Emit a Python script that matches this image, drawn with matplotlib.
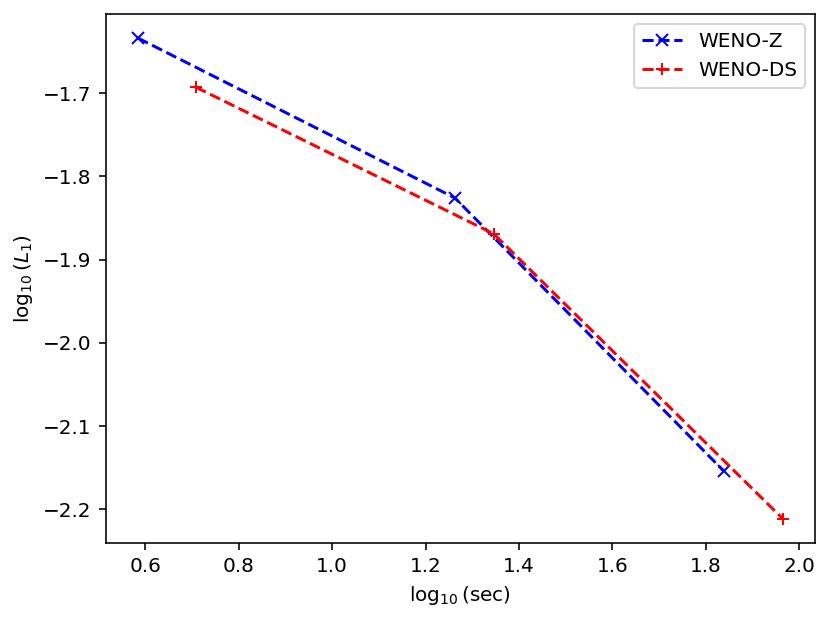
import matplotlib
matplotlib.use("Agg")
import matplotlib.pyplot as plt

# log10 of CPU time vs log10 of L1 error
weno_z_time = [0.584, 1.263, 1.839]
weno_z_err = [-1.634, -1.826, -2.154]
weno_ds_time = [0.708, 1.346, 1.965]
weno_ds_err = [-1.693, -1.869, -2.211]

DPI = 144
fig = plt.figure(figsize=(830 / DPI, 620 / DPI), dpi=DPI)
ax = fig.add_axes([0.1273, 0.1247, 0.8546, 0.8527])

ax.plot(weno_z_time, weno_z_err, "b--x", label="WENO-Z")
ax.plot(weno_ds_time, weno_ds_err, "r--+", label="WENO-DS")

ax.set_xlabel(r"$\log_{10}$(sec)")
ax.set_ylabel(r"$\log_{10}(L_1)$")
ax.legend(loc="upper right")

fig.savefig("out.png", dpi=DPI)
